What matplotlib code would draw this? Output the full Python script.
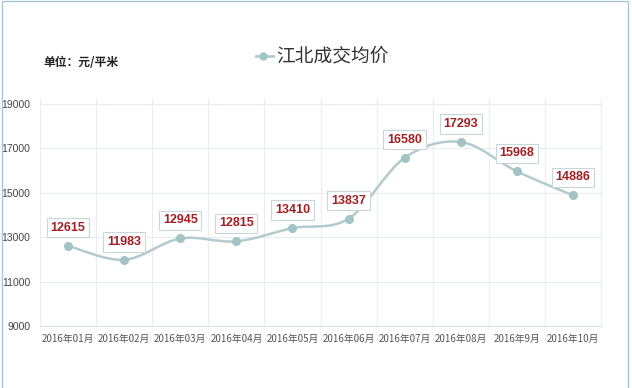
import matplotlib.pyplot as plt
from matplotlib.path import Path
from matplotlib.patches import PathPatch, Rectangle
from matplotlib.lines import Line2D

plt.rcParams['font.family'] = ['Noto Sans CJK SC', 'DejaVu Sans']

# ----------------------------
# data
# ----------------------------
months = ["2016年01月", "2016年02月", "2016年03月", "2016年04月", "2016年05月",
          "2016年06月", "2016年07月", "2016年08月", "2016年9月", "2016年10月"]
prices = [12615, 11983, 12945, 12815, 13410, 13837, 16580, 17293, 15968, 14886]
yticks = [9000, 11000, 13000, 15000, 17000, 19000]

line_color = "#B3CBCE"
marker_color = "#A3C4C6"
label_color = "#A31F24"
grid_color = "#E9EDF0"

fig = plt.figure(figsize=(6.32, 3.88), dpi=100)
ax = fig.add_axes([40 / 632, 1 - 326 / 388, 561 / 632, 227 / 388])

x = list(range(len(prices)))

# ----------------------------
# smoothed line (cardinal spline like excel)
# ----------------------------
verts = [(x[0], prices[0])]
codes = [Path.MOVETO]
n = len(prices)
for i in range(n - 1):
    p0 = (x[max(i - 1, 0)], prices[max(i - 1, 0)])
    p1 = (x[i], prices[i])
    p2 = (x[i + 1], prices[i + 1])
    p3 = (x[min(i + 2, n - 1)], prices[min(i + 2, n - 1)])
    c1 = (p1[0] + (p2[0] - p0[0]) / 6, p1[1] + (p2[1] - p0[1]) / 6)
    c2 = (p2[0] - (p3[0] - p1[0]) / 6, p2[1] - (p3[1] - p1[1]) / 6)
    verts += [c1, c2, p2]
    codes += [Path.CURVE4] * 3
ax.add_patch(PathPatch(Path(verts, codes), facecolor="none",
                       edgecolor=line_color, lw=1.8, zorder=3))
ax.plot(x, prices, linestyle="none", marker="o", ms=5.5,
        color=marker_color, zorder=4)

# ----------------------------
# data labels
# ----------------------------
for xi, v in zip(x, prices):
    ax.annotate(str(v), (xi, v), xytext=(0, 13), textcoords="offset points",
                ha="center", va="center", fontsize=9, fontweight="bold",
                family=["Liberation Sans", "DejaVu Sans"], color=label_color,
                bbox=dict(boxstyle="square,pad=0.3", fc="white",
                          ec="#C9D6DC", lw=0.8),
                zorder=5)

# ----------------------------
# axes styling
# ----------------------------
ax.set_xlim(-0.5, n - 0.5)
ax.set_ylim(9000, 19230)
ax.set_yticks(yticks)
ax.set_yticklabels([str(t) for t in yticks], fontsize=7.5, color="#444444",
                   family=["Liberation Sans", "DejaVu Sans"])
ax.set_xticks(x)
ax.set_xticklabels(months, fontsize=7, color="#555555")
ax.set_xticks([i + 0.5 for i in range(n - 1)], minor=True)
ax.tick_params(axis="both", which="both", length=0)
ax.tick_params(axis="y", pad=7)
ax.tick_params(axis="x", pad=6)
ax.grid(True, axis="y", which="major", color=grid_color, lw=0.8)
ax.grid(True, axis="x", which="minor", color=grid_color, lw=0.8)
for side in ["left", "right", "top"]:
    ax.spines[side].set_color(grid_color)
ax.spines["top"].set_visible(False)
ax.spines["bottom"].set_color("#DDE3E8")

# ----------------------------
# title legend and unit
# ----------------------------
fig.text(43 / 632, 1 - 62 / 388, "单位：元/平米", fontsize=8.5, fontweight="bold",
         color="#222222", va="center", ha="left")
fig.add_artist(Line2D([256 / 632, 273 / 632], [1 - 56 / 388, 1 - 56 / 388],
                      color=line_color, lw=2, transform=fig.transFigure))
fig.add_artist(Line2D([263 / 632], [1 - 56 / 388], marker="o", ms=5,
                      color=marker_color, transform=fig.transFigure))
fig.text(276 / 632, 1 - 56 / 388, "江北成交均价", fontsize=13.5,
         color="#333333", va="center", ha="left")

# thin frame round the picture
fig.add_artist(Rectangle((2 / 632, -0.01), 626 / 632, 1.007,
                         transform=fig.transFigure, fill=False,
                         ec="#A9C6D8", lw=1))

fig.savefig("out.png", dpi=100)
